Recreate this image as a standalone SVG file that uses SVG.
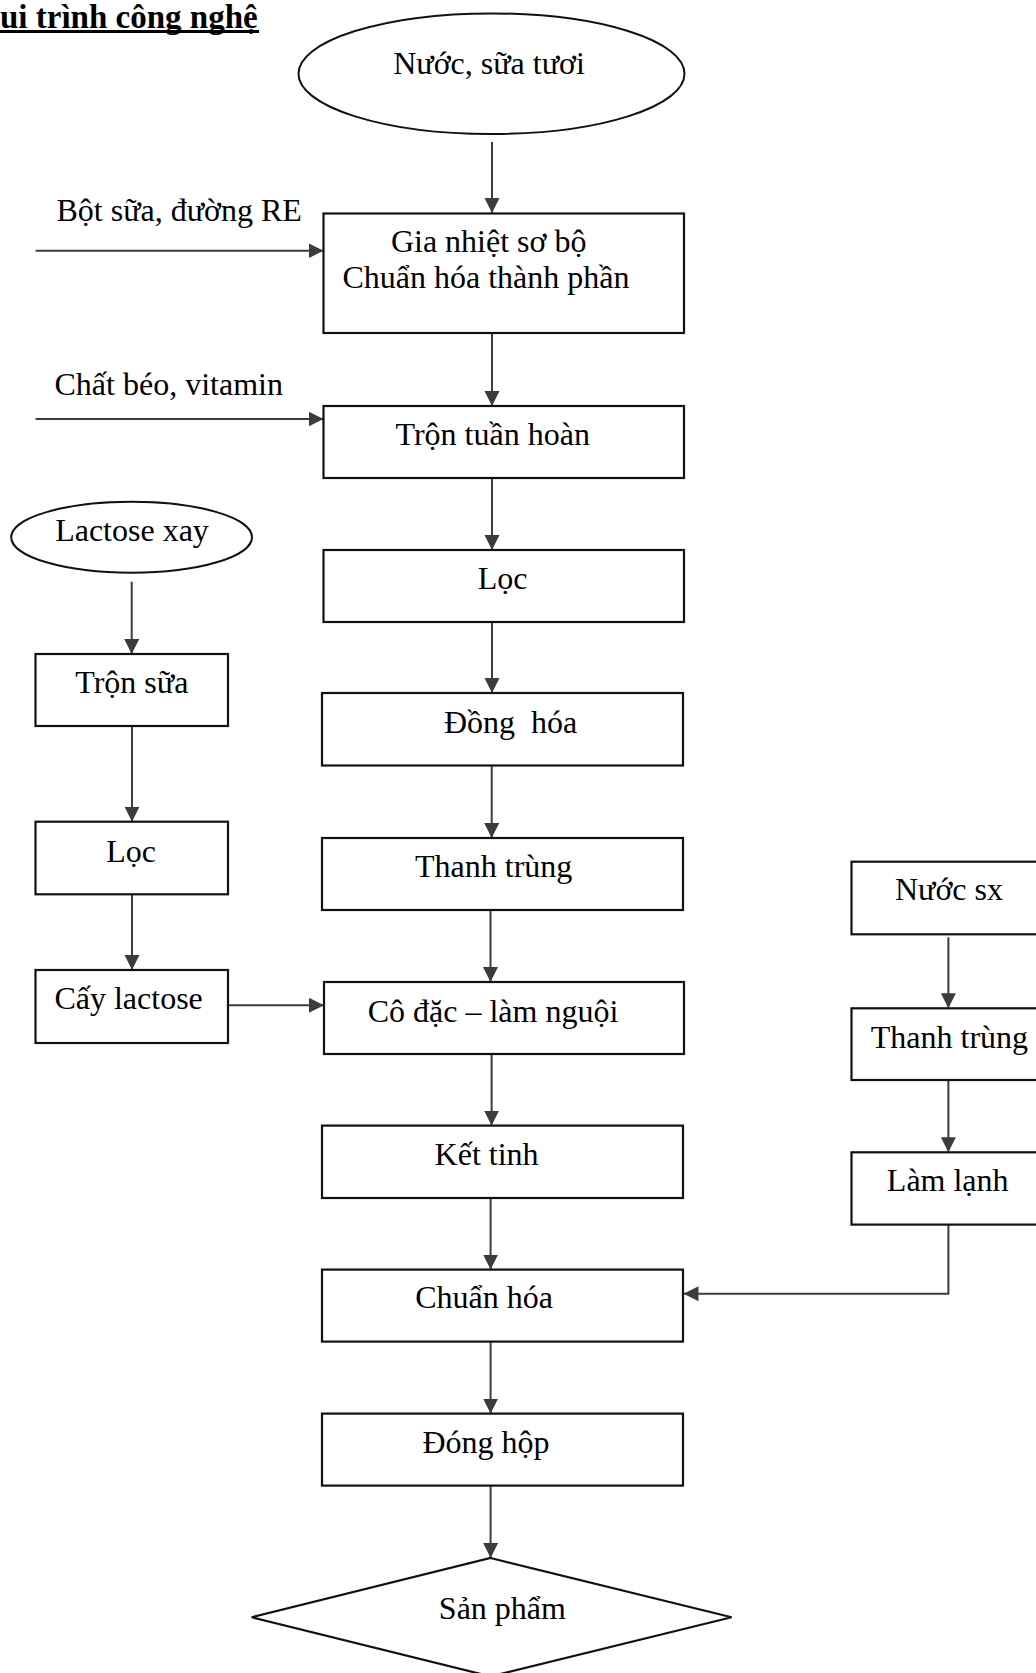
<svg xmlns="http://www.w3.org/2000/svg" width="1036" height="1673" viewBox="0 0 1036 1673">
<style>
  text { font-family: "Liberation Serif", "Times New Roman", serif; font-size: 32px; fill: #000; }
  .c { text-anchor: middle; }
  .box { fill: #fff; stroke: #111; stroke-width: 2.2; }
  .ell { fill: #fff; stroke: #111; stroke-width: 2; }
  .ln { fill: none; stroke: #3c3c3c; stroke-width: 2; marker-end: url(#ah); }
  .title { font-weight: bold; font-size: 33px; }
</style>
<defs>
  <marker id="ah" markerUnits="userSpaceOnUse" markerWidth="16" markerHeight="16" refX="15" refY="7.5" orient="auto">
    <path d="M0,0 L15,7.5 L0,15 z" fill="#3c3c3c"/>
  </marker>
</defs>
<rect width="1036" height="1673" fill="#fff"/>
<g id="title">
  <text class="title" x="0" y="27.5">ui trình công nghệ</text>
  <rect x="0" y="30" width="259" height="3" fill="#000"/>
</g>

<g id="connectors">
  <line class="ln" x1="492" y1="142" x2="492" y2="213"/>
  <line class="ln" x1="35.5" y1="250.7" x2="323.5" y2="250.7"/>
  <line class="ln" x1="492" y1="333" x2="492" y2="406"/>
  <line class="ln" x1="35.5" y1="419" x2="323.5" y2="419"/>
  <line class="ln" x1="492" y1="478" x2="492" y2="550"/>
  <line class="ln" x1="492" y1="622" x2="492" y2="693"/>
  <line class="ln" x1="491.7" y1="765.5" x2="491.7" y2="838"/>
  <line class="ln" x1="490.5" y1="910" x2="490.5" y2="982"/>
  <line class="ln" x1="131.7" y1="581.7" x2="131.7" y2="654"/>
  <line class="ln" x1="132" y1="726" x2="132" y2="821.7"/>
  <line class="ln" x1="132" y1="894.3" x2="132" y2="970"/>
  <line class="ln" x1="228" y1="1005.3" x2="324" y2="1005.3"/>
  <line class="ln" x1="948.4" y1="937.3" x2="948.4" y2="1008.3"/>
  <line class="ln" x1="948.4" y1="1080" x2="948.4" y2="1152.3"/>
  <path class="ln" d="M948.4,1224.6 V1293.7 H683.5"/>
  <line class="ln" x1="491.6" y1="1054" x2="491.6" y2="1125.6"/>
  <line class="ln" x1="490.6" y1="1198" x2="490.6" y2="1269.6"/>
  <line class="ln" x1="490.6" y1="1341.6" x2="490.6" y2="1413.6"/>
  <line class="ln" x1="490.6" y1="1485.6" x2="490.6" y2="1558"/>
</g>

<g id="n-nuoc-sua-tuoi">
  <ellipse class="ell" cx="491.5" cy="73.7" rx="193" ry="60.3"/>
  <text class="c" x="489" y="73.5">Nước, sữa tươi</text>
</g>
<g id="lbl-bot-sua">
  <text x="56.5" y="221">Bột sữa, đường RE</text>
</g>
<g id="lbl-chat-beo">
  <text x="54.5" y="395">Chất béo, vitamin</text>
</g>
<g id="n-gia-nhiet">
  <rect class="box" x="323.5" y="213.5" width="360.5" height="119.5"/>
  <text class="c" x="488.7" y="252">Gia nhiệt sơ bộ</text>
  <text class="c" x="486" y="288.3">Chuẩn hóa thành phần</text>
</g>
<g id="n-tron-tuan-hoan">
  <rect class="box" x="323.5" y="406" width="360.5" height="72"/>
  <text class="c" x="492.7" y="445">Trộn tuần hoàn</text>
</g>
<g id="n-loc">
  <rect class="box" x="323.5" y="550" width="360.5" height="72"/>
  <text class="c" x="502.7" y="589">Lọc</text>
</g>
<g id="n-dong-hoa">
  <rect class="box" x="322" y="693" width="361" height="72.5"/>
  <text class="c" x="510.6" y="732.7" xml:space="preserve">Đồng  hóa</text>
</g>
<g id="n-thanh-trung">
  <rect class="box" x="322" y="838" width="361" height="72"/>
  <text class="c" x="493.7" y="876.7">Thanh trùng</text>
</g>
<g id="n-co-dac">
  <rect class="box" x="324" y="982" width="360" height="72"/>
  <text class="c" x="493" y="1021.7">Cô đặc – làm nguội</text>
</g>
<g id="n-ket-tinh">
  <rect class="box" x="322" y="1125.6" width="361" height="72.4"/>
  <text class="c" x="486.6" y="1165">Kết tinh</text>
</g>
<g id="n-chuan-hoa">
  <rect class="box" x="322" y="1269.6" width="361" height="72"/>
  <text class="c" x="484" y="1308.3">Chuẩn hóa</text>
</g>
<g id="n-dong-hop">
  <rect class="box" x="322" y="1413.6" width="361" height="72"/>
  <text class="c" x="486" y="1452.7">Đóng hộp</text>
</g>
<g id="n-san-pham">
  <polygon class="box" points="490.6,1558 731.6,1617.2 490.6,1676.4 251.7,1617.2"/>
  <text class="c" x="502.4" y="1619">Sản phẩm</text>
</g>

<g id="n-lactose-xay">
  <ellipse class="ell" cx="131.6" cy="537.2" rx="120.4" ry="35.5"/>
  <text class="c" x="132" y="540.7">Lactose xay</text>
</g>
<g id="n-tron-sua">
  <rect class="box" x="35.5" y="654" width="192.5" height="72"/>
  <text class="c" x="131.8" y="692.5">Trộn sữa</text>
</g>
<g id="n-loc-2">
  <rect class="box" x="35.5" y="821.7" width="192.5" height="72.6"/>
  <text class="c" x="131" y="861.7">Lọc</text>
</g>
<g id="n-cay-lactose">
  <rect class="box" x="35.5" y="970" width="192.5" height="73"/>
  <text class="c" x="128.6" y="1009.3">Cấy lactose</text>
</g>

<g id="n-nuoc-sx">
  <rect class="box" x="851.5" y="861.7" width="194" height="72.6"/>
  <text class="c" x="949" y="900">Nước sx</text>
</g>
<g id="n-thanh-trung-2">
  <rect class="box" x="851.5" y="1008.3" width="194" height="71.7"/>
  <text class="c" x="949.4" y="1047.7">Thanh trùng</text>
</g>
<g id="n-lam-lanh">
  <rect class="box" x="851.5" y="1152.3" width="194" height="72.3"/>
  <text class="c" x="947.7" y="1191.4">Làm lạnh</text>
</g>
</svg>
